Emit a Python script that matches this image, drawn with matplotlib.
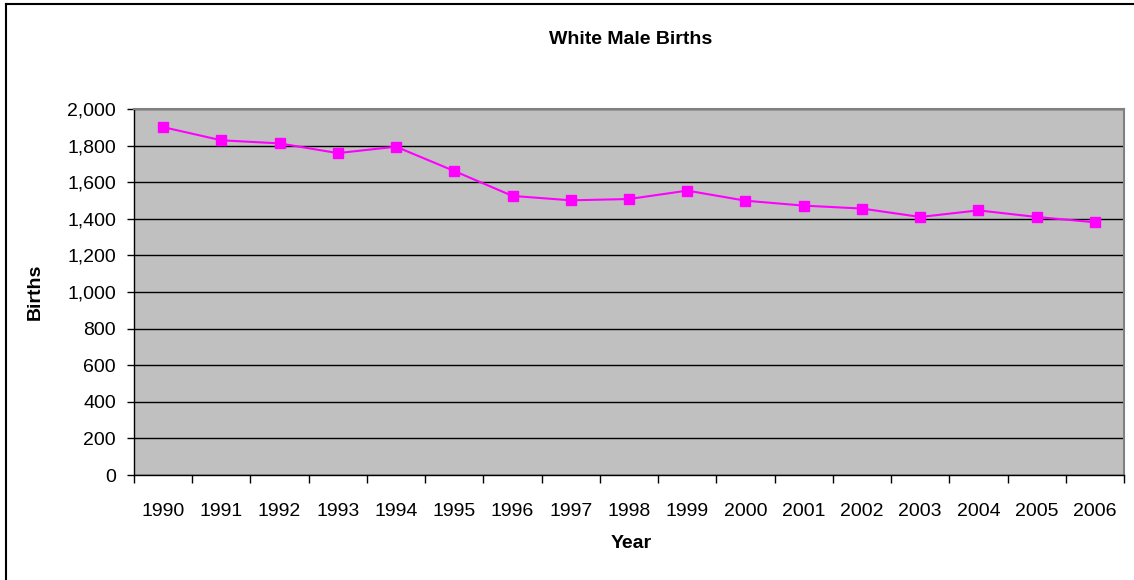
import matplotlib

matplotlib.use("Agg")

import matplotlib.pyplot as plt
from matplotlib.lines import Line2D
from matplotlib.ticker import FuncFormatter, MultipleLocator

plt.rcParams["font.family"] = ["Liberation Sans", "DejaVu Sans"]

YEARS = [str(y) for y in range(1990, 2007)]
BIRTHS = [1901, 1829, 1812, 1759, 1794, 1661, 1525, 1501, 1508, 1554,
          1499, 1472, 1456, 1410, 1446, 1410, 1381]

PLOT_BG = "#c0c0c0"
LINE_COLOR = "#ff00ff"

W, H = 1134, 580
fig = plt.figure(figsize=(W / 100, H / 100), dpi=100, facecolor="white")
ax = fig.add_axes([134 / W, 1 - 475 / H, (1124 - 134) / W, (475 - 109) / H])
ax.set_facecolor(PLOT_BG)

x = list(range(len(YEARS)))
ax.plot(x, BIRTHS, color=LINE_COLOR, linewidth=1.5, marker="s", markersize=7,
        markerfacecolor=LINE_COLOR, markeredgecolor=LINE_COLOR, zorder=3)

ax.set_xlim(-0.5, len(YEARS) - 0.5)
ax.set_ylim(0, 2000)
ax.yaxis.set_major_locator(MultipleLocator(200))
ax.yaxis.set_major_formatter(FuncFormatter(lambda v, _: f"{int(v):,}"))
ax.grid(True, axis="y", color="black", linewidth=1.0, zorder=1)
ax.set_axisbelow(True)

# ticks sit on category boundaries, labels at centres
ax.set_xticks([i - 0.5 for i in range(len(YEARS) + 1)])
ax.set_xticklabels([])
ax.set_xticks(x, minor=True)
ax.set_xticklabels(YEARS, minor=True, fontsize=14)
ax.tick_params(axis="x", which="major", direction="out", length=6, width=1, color="black")
ax.tick_params(axis="x", which="minor", length=0, pad=20)
ax.tick_params(axis="y", direction="out", length=5, width=1, color="black", labelsize=14, pad=8)

for side in ("top", "right"):
    ax.spines[side].set_color("#808080")
    ax.spines[side].set_linewidth(1.5)
for side in ("left", "bottom"):
    ax.spines[side].set_color("black")
    ax.spines[side].set_linewidth(1.0)

fig.text(631 / W, 1 - 40 / H, "White Male Births", ha="center", va="center",
         fontsize=14, fontweight="bold")
fig.text(35 / W, 1 - 292 / H, "Births", ha="center", va="center", rotation=90,
         fontsize=14, fontweight="bold")
fig.text(631 / W, 1 - 543 / H, "Year", ha="center", va="center",
         fontsize=14, fontweight="bold")

# outer chart border (only top and left fall inside the image)
fig.add_artist(Line2D([6 / W, 1], [1 - 4 / H, 1 - 4 / H], transform=fig.transFigure,
                      color="black", linewidth=1.5))
fig.add_artist(Line2D([6 / W, 6 / W], [0, 1 - 4 / H], transform=fig.transFigure,
                      color="black", linewidth=1.5))

fig.savefig("out.png", dpi=100, facecolor="white")
